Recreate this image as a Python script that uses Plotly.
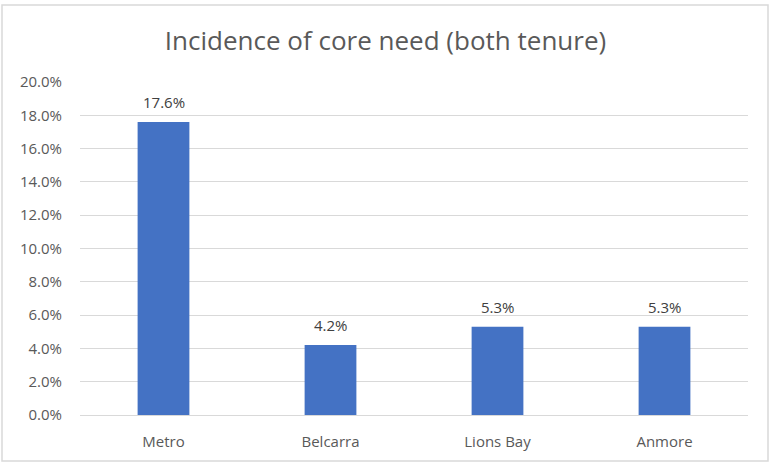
import plotly.graph_objects as go

# Share of households in core housing need (both tenures)
regions = ["Metro", "Belcarra", "Lions Bay", "Anmore"]
core_need = [0.176, 0.042, 0.053, 0.053]
y_ticks = [0.0, 0.02, 0.04, 0.06, 0.08, 0.10, 0.12, 0.14, 0.16, 0.18, 0.20]

FONT = "Open Sans, Carlito, Calibri, sans-serif"
LABEL_GREY = "#595959"

fig = go.Figure(
    go.Bar(
        x=regions,
        y=core_need,
        marker=dict(color="#4472C4", line=dict(width=0)),
        hovertemplate="%{x}: %{y:.1%}<extra></extra>",
    )
)

# value labels sitting above each bar
for region, value in zip(regions, core_need):
    fig.add_annotation(
        x=region,
        y=value,
        text=f"{value:.1%}",
        showarrow=False,
        yanchor="middle",
        yshift=20,
        font=dict(family=FONT, size=15, color="#404040"),
    )

W, H = 771, 464
L, R, T, B = 80, 23, 82, 49
pw, ph = W - L - R, H - T - B

def px_x(x):
    return (x - L) / pw

def px_y(y):
    return (H - B - y) / ph

fig.update_layout(
    width=W,
    height=H,
    margin=dict(l=L, r=R, t=T, b=B),
    paper_bgcolor="white",
    plot_bgcolor="white",
    bargap=0.69,
    showlegend=False,
    title=dict(
        text="Incidence of core need (both tenure)",
        x=0.5,
        xanchor="center",
        y=1 - 41 / H,
        yanchor="middle",
        font=dict(family=FONT, size=26, color=LABEL_GREY),
    ),
    font=dict(family=FONT, color=LABEL_GREY),
    shapes=[
        dict(
            type="rect",
            xref="paper",
            yref="paper",
            x0=px_x(2),
            x1=px_x(768),
            y0=px_y(461),
            y1=px_y(5),
            line=dict(color="#d9d9d9", width=1.5),
            fillcolor="rgba(0,0,0,0)",
            layer="below",
        )
    ],
)

fig.update_xaxes(
    showgrid=False,
    showline=False,
    ticks="",
    ticklabelstandoff=16,
    tickfont=dict(family=FONT, size=15, color=LABEL_GREY),
)
fig.update_yaxes(
    range=[0, 0.20],
    tickvals=y_ticks,
    tickformat=".1%",
    showgrid=True,
    gridcolor="#d9d9d9",
    gridwidth=1,
    zeroline=True,
    zerolinecolor="#d9d9d9",
    zerolinewidth=1,
    showline=False,
    ticks="",
    ticklabelstandoff=17,
    tickfont=dict(family=FONT, size=15, color=LABEL_GREY),
)

fig.write_html("out.html")
